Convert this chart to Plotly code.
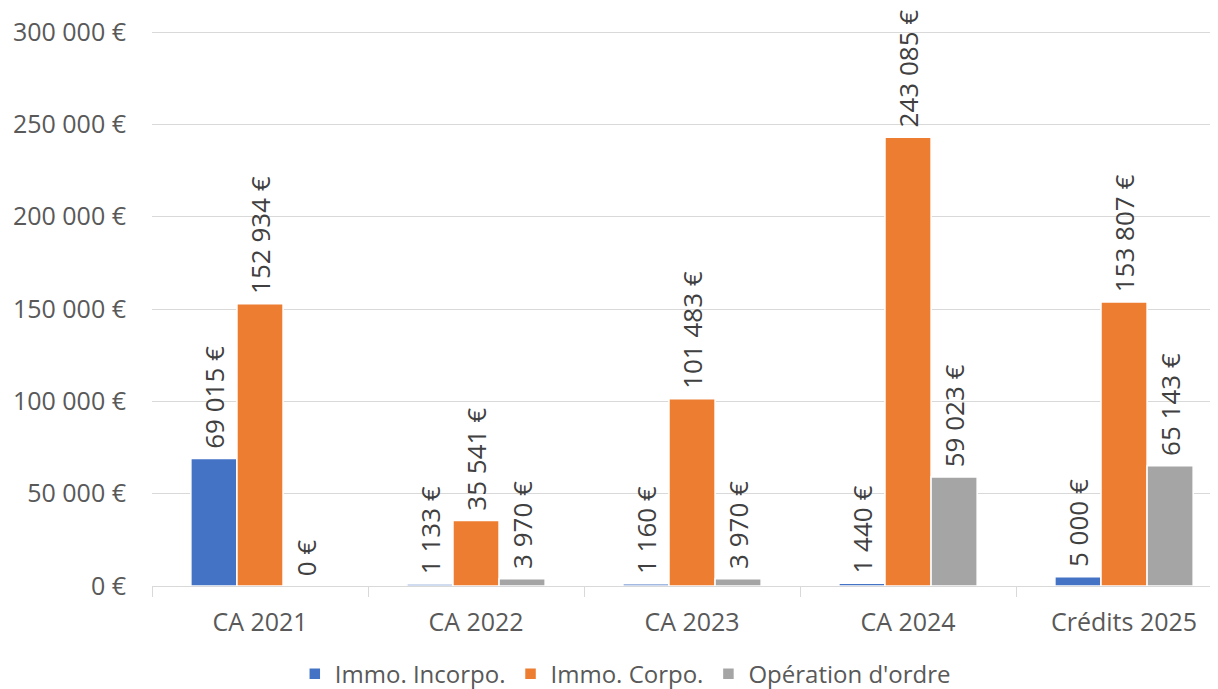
import plotly.graph_objects as go

categories = ["CA 2021", "CA 2022", "CA 2023", "CA 2024", "Crédits 2025"]
incorpo = [69015, 1133, 1160, 1440, 5000]
corpo = [152934, 35541, 101483, 243085, 153807]
ordre = [0, 3970, 3970, 59023, 65143]

series = [
    ("Immo. Incorpo.", incorpo, "#4472C4"),
    ("Immo. Corpo.", corpo, "#ED7D31"),
    ("Opération d'ordre", ordre, "#A5A5A5"),
]

FONT = "Open Sans, sans-serif"
TICK = 25
LBL = 26
LEG = 24
fig = go.Figure()
for name, vals, col in series:
    fig.add_trace(go.Bar(
        name=name, x=categories, y=vals,
        marker=dict(color=col, line=dict(color="white", width=1.5)),
        texttemplate="\u00a0%{y:,.0f} €", textposition="outside", textangle=-90,
        textfont=dict(family=FONT, size=LBL, color="#404040"),
        constraintext="none",
        cliponaxis=False,
    ))

fig.update_layout(
    width=1210, height=681,
    margin=dict(l=144, r=0, t=23, b=103, autoexpand=False),
    paper_bgcolor="white", plot_bgcolor="white",
    separators=", ",
    barmode="group", bargap=0.36, bargroupgap=0.0,
    font=dict(family=FONT, size=TICK, color="#595959"),
    legend=dict(orientation="h", x=0.444, xanchor="center", y=-0.159, yanchor="middle",
                font=dict(family=FONT, size=LEG, color="#595959")),
    uniformtext=dict(mode=False),
)
fig.update_yaxes(range=[0, 300600], tick0=0, dtick=50000, tickformat=",.0f", ticksuffix=" €",
                 gridcolor="#D9D9D9", gridwidth=1, zeroline=False, showline=False,
                 ticks="", ticklabelstandoff=25, automargin=False,
                 tickfont=dict(family=FONT, size=TICK, color="#595959"))
fig.update_xaxes(range=[-0.5, 4.435], showline=True, linecolor="#D9D9D9", linewidth=1,
                 ticks="outside", tickson="boundaries", ticklen=10, tickcolor="#D9D9D9",
                 ticklabelstandoff=14, automargin=False,
                 tickfont=dict(family=FONT, size=TICK, color="#595959"))

fig.write_html("out.html")
